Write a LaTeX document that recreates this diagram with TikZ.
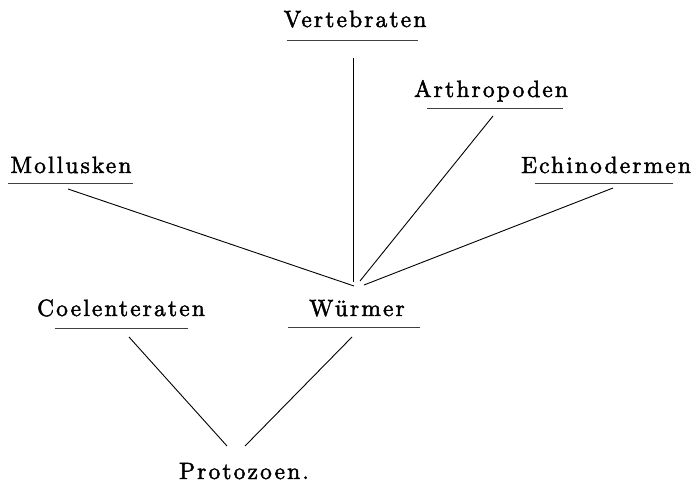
\documentclass[tikz,border=0pt]{standalone}
\usepackage{fontspec}
\newfontfamily\lblfont{lmroman10-regular}[Extension=.otf,LetterSpace=9,FakeBold=2]
\begin{document}
\begin{tikzpicture}[x=1pt,y=-1pt,
  lbl/.style={anchor=base,inner sep=0pt,font={\lblfont\fontsize{23.5}{27}\selectfont}},
  uline/.style={draw=black!75,line width=0.7pt},
  conn/.style={draw=black,line width=0.9pt}]
\useasboundingbox (0,0) rectangle (698,492);
% labels
\node[lbl] (vert) at (355,27) {Vertebraten};
\node[lbl] (arth) at (491,97) {Arthropoden};
\node[lbl] (moll) at (71,173) {Mollusken};
\node[lbl] (echi) at (606,173) {Echinodermen};
\node[lbl] (coel) at (121,316) {Coelenteraten};
\node[lbl] (wurm) at (357,316) {Würmer};
\node[lbl] (prot) at (244,479) {Protozoen.};
% underlines
\coordinate (vertL) at (287,40);  \coordinate (vertR) at (418,40);
\coordinate (arthL) at (427,108); \coordinate (arthR) at (563,108);
\coordinate (mollL) at (8,183);   \coordinate (mollR) at (133,183);
\coordinate (echiL) at (535,183); \coordinate (echiR) at (673,183);
\coordinate (coelL) at (55,328);  \coordinate (coelR) at (188,328);
\coordinate (wurmL) at (288,327); \coordinate (wurmR) at (420,327);
\draw[uline] (vertL) -- (vertR);
\draw[uline] (arthL) -- (arthR);
\draw[uline] (mollL) -- (mollR);
\draw[uline] (echiL) -- (echiR);
\draw[uline] (coelL) -- (coelR);
\draw[uline] (wurmL) -- (wurmR);
% connector end points
\coordinate (vertS) at (353,58);
\coordinate (arthS) at (493,116);
\coordinate (mollS) at (68,189);
\coordinate (echiS) at (613,188);
\coordinate (hubV) at (353,282);
\coordinate (hubA) at (360,281);
\coordinate (hubM) at (354,286);
\coordinate (hubE) at (364,285);
\coordinate (coelS) at (129,337);
\coordinate (wurmS) at (352,337);
\coordinate (protL) at (227,446);
\coordinate (protR) at (245,446);
% connectors
\draw[conn] (vertS) -- (hubV);
\draw[conn] (arthS) -- (hubA);
\draw[conn] (mollS) -- (hubM);
\draw[conn] (echiS) -- (hubE);
\draw[conn] (coelS) -- (protL);
\draw[conn] (wurmS) -- (protR);
\end{tikzpicture}
\end{document}
